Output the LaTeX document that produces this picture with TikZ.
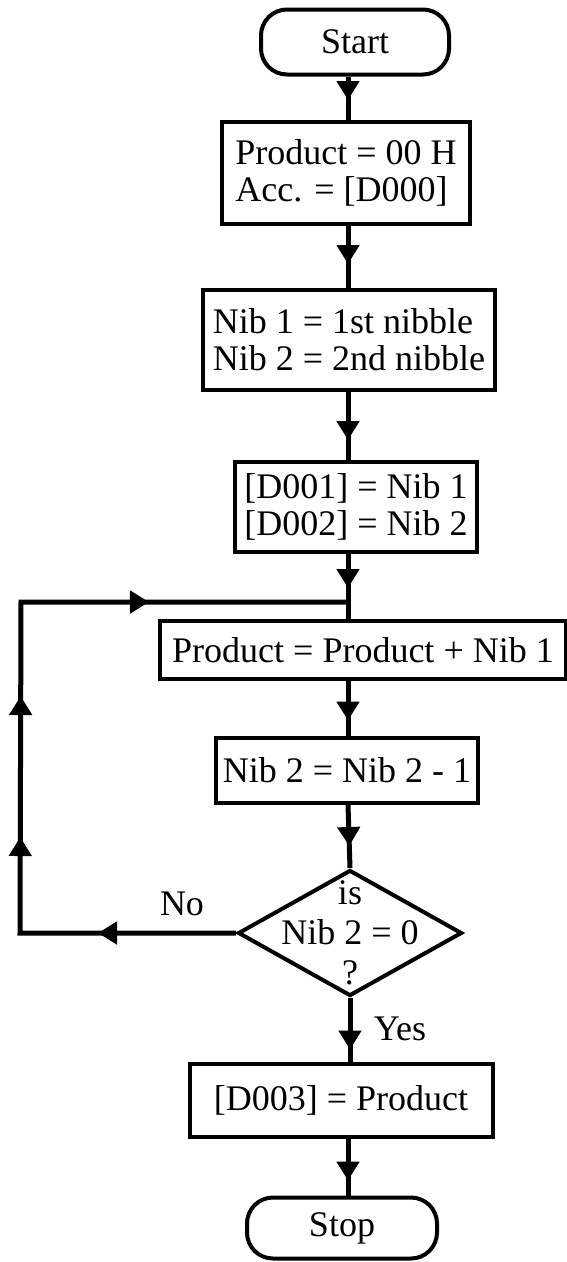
\documentclass[tikz,border=0pt]{standalone}
\usepackage{fontspec}
\setmainfont{Liberation Serif}
\usetikzlibrary{arrows.meta,shapes.geometric,decorations.markings}
\begin{document}
\begin{tikzpicture}[x=1pt,y=-1pt,
  every node/.style={font=\fontsize{36}{37}\selectfont, text=black},
  box/.style={draw, line width=4pt, inner sep=0pt, align=left},
  term/.style={draw, line width=4pt, rounded corners=26pt, inner sep=0pt},
  decision/.style={draw, diamond, line width=4pt, inner sep=0pt,
                   minimum width=224pt, minimum height=126pt},
  conn/.style={line width=5pt},
  flowtip/.tip={Triangle[length=19pt,width=22pt]},
  tipat/.style={postaction={decorate},
    decoration={markings, mark=at position #1 with {\arrow{flowtip}}}},
]
\useasboundingbox (0,0) rectangle (566,1262);

% main column
\coordinate (axis) at (348,0);
\node[term, minimum width=188pt, minimum height=65pt] (start) at (355,42) {Start};
\node[box, minimum width=248pt, minimum height=102pt] (init) at (346,173)
  {Product = 00 H\\Acc. = [D000]};
\node[box, minimum width=292pt, minimum height=100pt] (split) at (349,340)
  {Nib 1 = 1st nibble\\Nib 2 = 2nd nibble};
\node[box, minimum width=242pt, minimum height=90pt] (store) at (356,507)
  {[D001] = Nib 1\\{}[D002] = Nib 2};
\node[box, minimum width=406pt, minimum height=58pt] (add) at (363,650)
  {Product = Product + Nib 1};
\node[box, minimum width=262pt, minimum height=65pt] (count) at (347,770)
  {Nib 2 = Nib 2 - 1};
\node[decision] (test) at (350,933) {};
\node[align=center, font=\fontsize{36}{40}\selectfont] (testtxt) at (350,933)
  {is\\Nib 2 = 0\\?};
\node[box, minimum width=303pt, minimum height=73pt] (save) at (341,1100)
  {[D003] = Product};
\node[term, minimum width=190pt, minimum height=61pt] (stop) at (342,1228) {Stop};

% branch labels
\node (yes) at (400,1029) {Yes};
\node (no) at (182,904) {No};

% vertical connectors
\draw[conn, tipat=-20pt] (start.south -| axis) -- (init.north -| axis);
\draw[conn, tipat=-24pt] (init.south -| axis) -- (split.north -| axis);
\draw[conn, tipat=-20pt] (split.south -| axis) -- (store.north -| axis);
\draw[conn, tipat=-31pt] (store.south -| axis) -- (add.north -| axis);
\draw[conn, tipat=-15pt] (add.south -| axis) -- (count.north -| axis);
\draw[conn, tipat=-22pt] (count.south -| axis) -- (test.north);
\draw[conn, tipat=-12pt] (test.south) -- (save.north -| test.south);
\draw[conn, tipat=-15pt] (save.south -| axis) -- (stop.north -| axis);

% loop back from the decision
\coordinate (cb) at (20,933);
\coordinate (ct) at (21,602);
\coordinate (join) at (348,602);
\draw[conn, postaction={decorate}, decoration={markings,
    mark=at position 138pt with {\arrow{flowtip}},
    mark=at position 312pt with {\arrow{flowtip}},
    mark=at position 453pt with {\arrow{flowtip}},
    mark=at position 675pt with {\arrow{flowtip}}}]
  (test.west) -- (cb) -- (ct) -- (join);
\end{tikzpicture}
\end{document}
